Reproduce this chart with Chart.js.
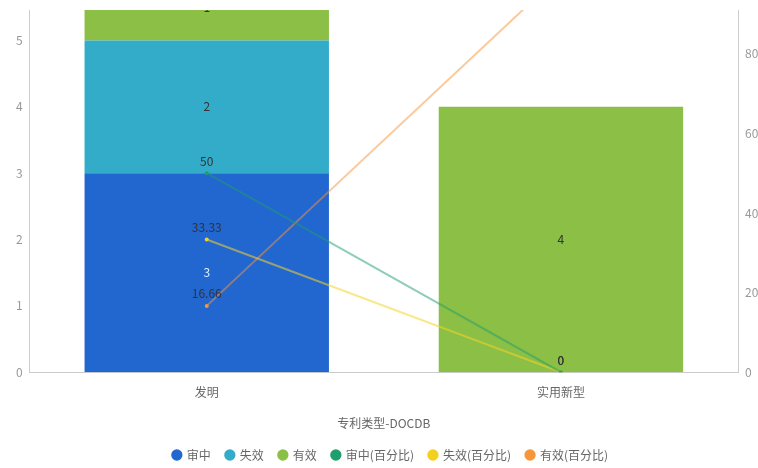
<!DOCTYPE html>
<html>
<head>
<meta charset="utf-8">
<script src="https://cdn.jsdelivr.net/npm/chart.js@4"></script>
<style>
  body { margin: 0; background: #fff; }
  #wrap { position: relative; width: 758px; height: 468px; overflow: hidden; background: #fff; }
  #clip { position: absolute; top: 10px; left: 0; right: 0; bottom: 0; overflow: hidden; }
  #box { position: absolute; top: -50px; left: 0; width: 772px; height: 511px; }
</style>
</head>
<body>
<div id="wrap">
  <div id="clip">
    <div id="box"><canvas id="patentChart"></canvas></div>
  </div>
</div>
<script>
const categories = ['发明', '实用新型'];
const pending = [3, 0];
const lapsed = [2, 0];
const valid = [1, 4];
const pendingPct = [50, 0];
const lapsedPct = [33.33, 0];
const validPct = [16.66, 100];

const FONT = "'Noto Sans CJK SC', 'Noto Sans', sans-serif";

// value labels: centred in bar segments, above line points
const valueLabels = {
  id: 'valueLabels',
  afterDatasetsDraw(chart) {
    const c = chart.ctx;
    c.save();
    c.font = '12px ' + FONT;
    c.textAlign = 'center';
    chart.data.datasets.forEach((ds, i) => {
      const meta = chart.getDatasetMeta(i);
      if (meta.hidden) return;
      meta.data.forEach((el, j) => {
        const v = ds.data[j];
        if (ds.type === 'bar') {
          if (!v) return;
          c.fillStyle = ds.labelColor || '#333';
          c.textBaseline = 'middle';
          c.fillText(String(v), el.x, (el.y + el.base) / 2);
        } else {
          c.fillStyle = '#333';
          c.textBaseline = 'bottom';
          c.fillText(String(v), el.x, el.y - 6);
        }
      });
    });
    c.restore();
  }
};

const ctx = document.getElementById('patentChart').getContext('2d');

new Chart(ctx, {
  data: {
    labels: categories,
    datasets: [
      { type: 'bar', label: '审中', data: pending, backgroundColor: '#2266d0', labelColor: '#e6eefa', stack: 's', order: 1 },
      { type: 'bar', label: '失效', data: lapsed, backgroundColor: '#33acca', stack: 's', order: 1 },
      { type: 'bar', label: '有效', data: valid, backgroundColor: '#8bbf45', stack: 's', order: 1 },
      { type: 'line', label: '审中(百分比)', data: pendingPct, yAxisID: 'y1', order: 0,
        borderColor: 'rgba(31,158,110,0.5)', backgroundColor: '#1f9e6e', pointBackgroundColor: '#1f9e6e',
        pointBorderWidth: 0, pointRadius: 2, borderWidth: 2 },
      { type: 'line', label: '失效(百分比)', data: lapsedPct, yAxisID: 'y1', order: 0,
        borderColor: 'rgba(245,212,40,0.55)', backgroundColor: '#f5cf1e', pointBackgroundColor: '#f5cf1e',
        pointBorderWidth: 0, pointRadius: 2, borderWidth: 2 },
      { type: 'line', label: '有效(百分比)', data: validPct, yAxisID: 'y1', order: 0,
        borderColor: 'rgba(247,149,58,0.5)', backgroundColor: '#f7953a', pointBackgroundColor: '#f7953a',
        pointBorderWidth: 0, pointRadius: 2, borderWidth: 2 }
    ]
  },
  options: {
    responsive: true,
    maintainAspectRatio: false,
    animation: false,
    layout: { padding: { left: 9, right: 0, top: 0, bottom: 0 } },
    datasets: {
      bar: { categoryPercentage: 1, barPercentage: 0.69 }
    },
    scales: {
      x: {
        stacked: true,
        grid: { display: false, drawTicks: false },
        border: { color: '#ccc' },
        ticks: { color: '#666', padding: 13, font: { size: 12, family: FONT } },
        title: { display: true, text: '专利类型-DOCDB', color: '#666', font: { size: 12, family: FONT }, padding: { top: 4, bottom: 3 } }
      },
      y: {
        stacked: true,
        min: 0, max: 6,
        grid: { display: false, drawTicks: false },
        border: { color: '#ccc' },
        ticks: { stepSize: 1, color: '#999', padding: 7, font: { size: 12, family: FONT } }
      },
      y1: {
        position: 'right',
        min: 0, max: 100,
        grid: { display: false, drawTicks: false },
        border: { color: '#ccc' },
        ticks: { stepSize: 20, color: '#999', padding: 7, font: { size: 12, family: FONT } }
      }
    },
    plugins: {
      tooltip: { enabled: false },
      legend: {
        position: 'bottom',
        labels: {
          color: '#666',
          font: { size: 12, family: FONT },
          usePointStyle: true,
          boxWidth: 8,
          boxHeight: 8,
          padding: 15,
          generateLabels(chart) {
            return chart.data.datasets.map((ds, i) => ({
              text: ds.label,
              fillStyle: ds.backgroundColor,
              strokeStyle: ds.backgroundColor,
              lineWidth: 0,
              pointStyle: 'circle',
              fontColor: '#666',
              hidden: !chart.isDatasetVisible(i),
              datasetIndex: i
            }));
          }
        }
      }
    }
  },
  plugins: [valueLabels]
});
</script>
</body>
</html>
